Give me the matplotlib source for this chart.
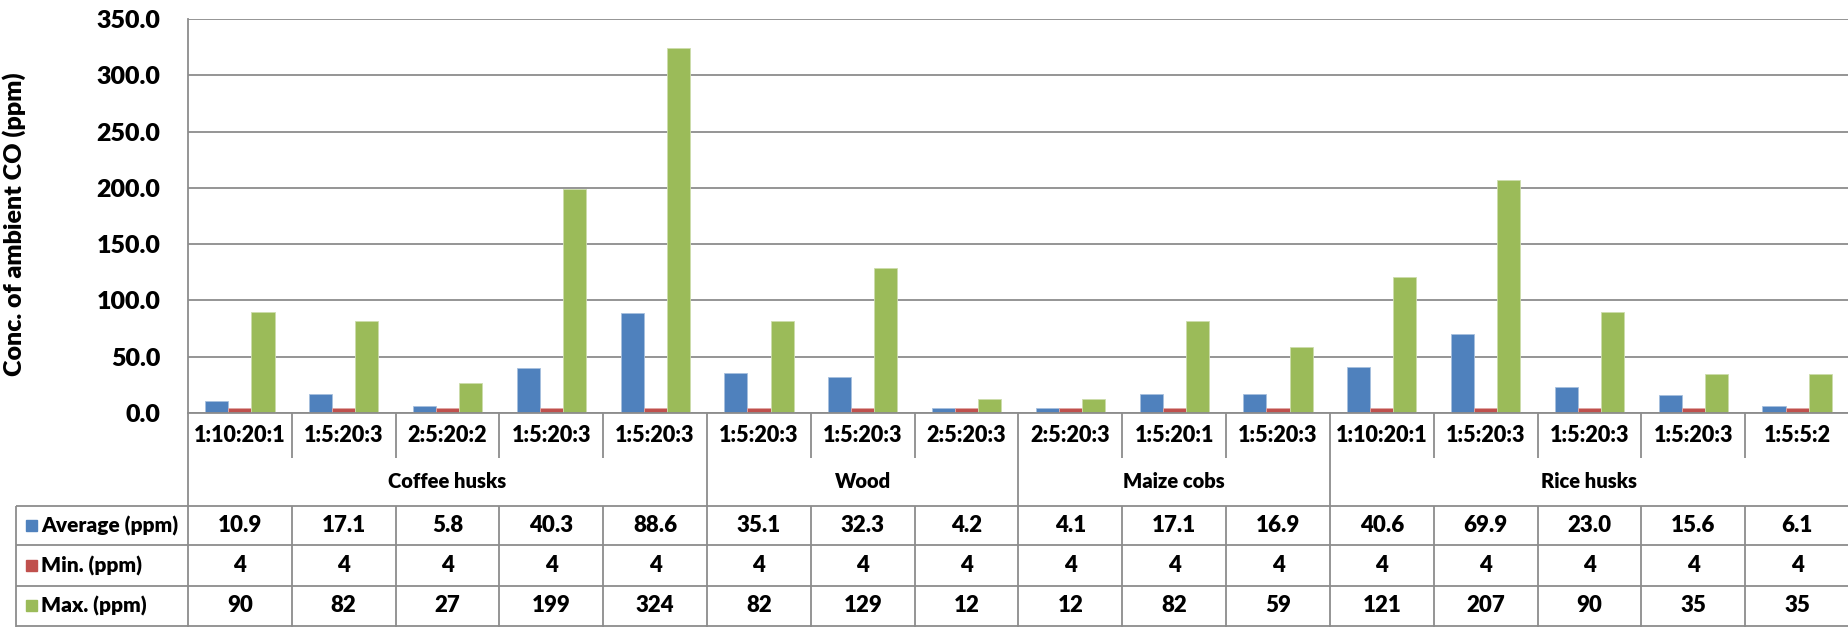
import matplotlib
matplotlib.use("Agg")
import matplotlib.pyplot as plt
from matplotlib.patches import Rectangle
from matplotlib.transforms import blended_transform_factory

# Chart data
groups = ["Coffee husks", "Wood", "Maize cobs", "Rice husks"]
groupSizes = [5, 3, 3, 5]
ratios = ["1:10:20:1", "1:5:20:3", "2:5:20:2", "1:5:20:3", "1:5:20:3",
          "1:5:20:3", "1:5:20:3", "2:5:20:3",
          "2:5:20:3", "1:5:20:1", "1:5:20:3",
          "1:10:20:1", "1:5:20:3", "1:5:20:3", "1:5:20:3", "1:5:5:2"]
average = [10.9, 17.1, 5.8, 40.3, 88.6, 35.1, 32.3, 4.2, 4.1, 17.1, 16.9, 40.6, 69.9, 23.0, 15.6, 6.1]
minimum = [4, 4, 4, 4, 4, 4, 4, 4, 4, 4, 4, 4, 4, 4, 4, 4]
maximum = [90, 82, 27, 199, 324, 82, 129, 12, 12, 82, 59, 121, 207, 90, 35, 35]
yTicks = [0, 50, 100, 150, 200, 250, 300, 350]

seriesNames = ["Average (ppm)", "Min. (ppm)", "Max. (ppm)"]
seriesColors = ["#4F81BD", "#C0504D", "#9BBB59"]
edgeColors = ["#A7C0DE", "#E0A8A6", "#CDDDAC"]
gridColor = "#8C8C8C"
heavy = "heavy"

plt.rcParams["font.family"] = ["Lato", "DejaVu Sans"]
plt.rcParams["font.weight"] = "bold"

# Figure laid out in pixels
W, H = 1849, 627
plotLeft, plotTop, plotBottom = 188, 19, 413
catRowBottom, tableTop = 458, 506
rowLines = [506, 545, 586, 626]
tableLeft = 16

fig = plt.figure(figsize=(W / 100, H / 100), dpi=100)
ax = fig.add_axes([plotLeft / W, (H - plotBottom) / H, (W - plotLeft) / W, (plotBottom - plotTop) / H])

# Bars
n = len(ratios)
xs = list(range(n))
barWidth = 1 / 4.5
allSeries = [average, minimum, maximum]
for k, values in enumerate(allSeries):
	ax.bar([x + (k - 1) * barWidth for x in xs], values, width=barWidth,
		color=seriesColors[k], edgecolor=edgeColors[k], linewidth=0.6, zorder=3)

ax.set_xlim(-0.5, n - 0.5)
ax.set_ylim(0, 350)
ax.set_yticks(yTicks)
ax.set_yticklabels(["%.1f" % t for t in yTicks], fontsize=18, fontweight=heavy)
ax.set_xticks([])
ax.tick_params(axis="y", length=0, pad=20)
ax.yaxis.grid(True, color=gridColor, linewidth=1.3, zorder=0)
ax.set_axisbelow(True)
for side in ["top", "right"]:
	ax.spines[side].set_visible(False)
for side in ["left", "bottom"]:
	ax.spines[side].set_color(gridColor)
	ax.spines[side].set_linewidth(1.3)
	ax.spines[side].set_zorder(4)
ax.set_ylabel("Conc. of ambient CO (ppm)", fontsize=18, fontweight=heavy)
ax.yaxis.set_label_coords(-(plotLeft - 26) / (W - plotLeft), 0.48)

# Overlay in pixel coordinates for the category rows and the data table
over = fig.add_axes([0, 0, 1, 1])
over.set_xlim(0, W)
over.set_ylim(H, 0)
over.axis("off")
over.patch.set_alpha(0)
trans = blended_transform_factory(ax.transData, over.transData)
lineKw = dict(color=gridColor, linewidth=1.3, solid_capstyle="butt")

# Vertical lines: plot left continues down through the table
over.plot([-0.5, -0.5], [plotBottom, H], transform=trans, **lineKw)
groupEdges = []
pos = 0
for size in groupSizes:
	pos += size
	groupEdges.append(pos - 0.5)
for i in range(n - 1):
	edge = i + 0.5
	end = tableTop if edge in groupEdges else catRowBottom
	over.plot([edge, edge], [plotBottom, end], transform=trans, **lineKw)
	over.plot([edge, edge], [tableTop, H], transform=trans, **lineKw)

# Category labels and group labels
for i, label in enumerate(ratios):
	over.text(i, 436, label, transform=trans, ha="center", va="center", fontsize=15.5, fontweight=heavy)
start = 0
for name, size in zip(groups, groupSizes):
	over.text(start + (size - 1) / 2, 482, name, transform=trans, ha="center", va="center",
		fontsize=14.5, fontweight=heavy)
	start += size

# Data table
for y in rowLines:
	over.plot([tableLeft, W], [y, y], **lineKw)
over.plot([tableLeft, tableLeft], [tableTop, H], **lineKw)
for k, values in enumerate(allSeries):
	yc = (rowLines[k] + rowLines[k + 1]) / 2
	over.add_patch(Rectangle((26, yc - 6), 11, 11, color=seriesColors[k]))
	over.text(41, yc, seriesNames[k], ha="left", va="center", fontsize=15, fontweight=heavy)
	for i, v in enumerate(values):
		text = "%.1f" % v if k == 0 else "%d" % v
		over.text(i, yc, text, transform=trans, ha="center", va="center", fontsize=16, fontweight=heavy)

fig.savefig("out.png", dpi=100)
